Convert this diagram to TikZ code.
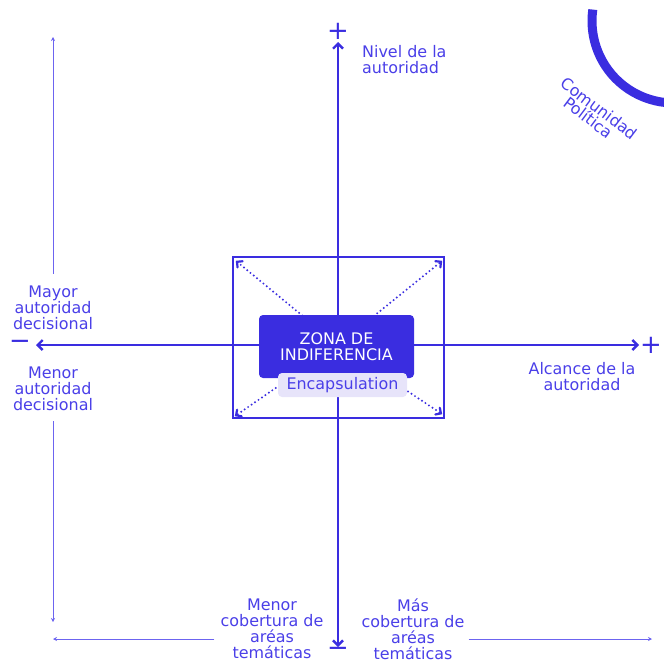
\documentclass[tikz,border=0pt]{standalone}
\usepackage{fontspec}
\setmainfont{DejaVu Sans}
\usetikzlibrary{arrows.meta,positioning,calc}
\definecolor{indigo}{HTML}{3A2DE0}
\definecolor{lavender}{HTML}{E7E4FA}
\definecolor{softline}{HTML}{6C64F0}
\definecolor{labeltext}{HTML}{4A3FE8}

\begin{document}
\begin{tikzpicture}[x=1bp,y=-1bp,
    lbl/.style={text=labeltext,align=center,inner sep=0pt,font=\fontsize{16}{16}\selectfont},
    axis/.style={draw=indigo,line width=2.4bp,{Straight Barb[length=5bp,width=10bp]}-{Straight Barb[length=5bp,width=10bp]}},
    sign/.style={text=indigo,inner sep=0pt,font=\fontsize{26}{26}\selectfont},
    thinarrow/.style={draw=softline,line width=1bp,-{Stealth[length=4bp,width=4bp]}},
    spread/.style={draw=indigo,line width=2.2bp,line cap=round,dash pattern=on 0bp off 4.2bp,-{Straight Barb[length=4bp,width=8bp,line cap=round]}}]
  \useasboundingbox (0,0) rectangle (664,662);
  % axes
  \coordinate (o) at (338,345);
  \coordinate (vtop) at (338,42); \coordinate (vbot) at (338,647);
  \coordinate (hleft) at (36,345); \coordinate (hright) at (639,345);
  \draw[axis] (vbot) -- (vtop); \draw[axis] (hleft) -- (hright);
  \node[sign,above=2bp of vtop] (vplus) {+}; \node[sign,below=0bp of vbot] (vminus) {−};
  \node[sign,right=1bp of hright] (hplus) {+}; \node[sign,left=5bp of hleft] (hminus) {−};
  % zone
  \node[draw=indigo,line width=2.4bp,minimum width=211bp,minimum height=161bp] (frame) at (338.5,337.5) {};
  \draw[spread] (o) -- ($(frame.north west)+(4,5)$); \draw[spread] (o) -- ($(frame.north east)+(-3,5)$);
  \draw[spread] (o) -- ($(frame.south west)+(3,-3)$); \draw[spread] (o) -- ($(frame.south east)+(-3,-5)$);
  \node[fill=indigo,rounded corners=4bp,minimum width=155bp,minimum height=63bp,text=white,align=center,inner sep=0pt,font=\fontsize{16}{16}\selectfont] (zona) at (336.5,346.5) {ZONA DE\\INDIFERENCIA};
  \node[fill=lavender,rounded corners=4bp,minimum width=129bp,minimum height=24bp,text=labeltext,inner sep=0pt,font=\fontsize{16}{16}\selectfont] (encap) at (342.5,385) {Encapsulation};
  % labels
  \node[lbl,align=left,anchor=north west] (nivel) at (362,45) {Nivel de la\\autoridad};
  \node[lbl] (alcance) at (582,377) {Alcance de la\\autoridad};
  \node[lbl] (mayor) at (53,308) {Mayor\\autoridad\\decisional};
  \node[lbl] (menor) at (53,389) {Menor\\autoridad\\decisional};
  \node[lbl] (menorcob) at (272,629) {Menor\\cobertura de\\aréas\\temáticas};
  \node[lbl] (mascob) at (413,629) {Más\\cobertura de\\aréas\\temáticas};
  % side arrows
  \coordinate (ltop) at (53,37); \coordinate (lbot) at (53,622);
  \coordinate (bleft) at (53,639); \coordinate (bright) at (652,639);
  \draw[thinarrow] ([yshift=12bp]mayor.north) -- (ltop); \draw[thinarrow] ([yshift=-10bp]menor.south) -- (lbot);
  \draw[thinarrow] ([xshift=-6bp]menorcob.west |- bleft) -- (bleft); \draw[thinarrow] ([xshift=4bp]mascob.east |- bright) -- (bright);
  % comunidad
  \draw[indigo,line width=9bp] (674,21) ++(188:82) arc[start angle=188,end angle=95,radius=82];
  \node[text=labeltext,rotate=-37,align=left,inner sep=0pt,font=\fontsize{16}{14}\selectfont] (comunidad) at (595,114) {Comunidad\\\hspace*{14bp}Política};
\end{tikzpicture}
\end{document}
